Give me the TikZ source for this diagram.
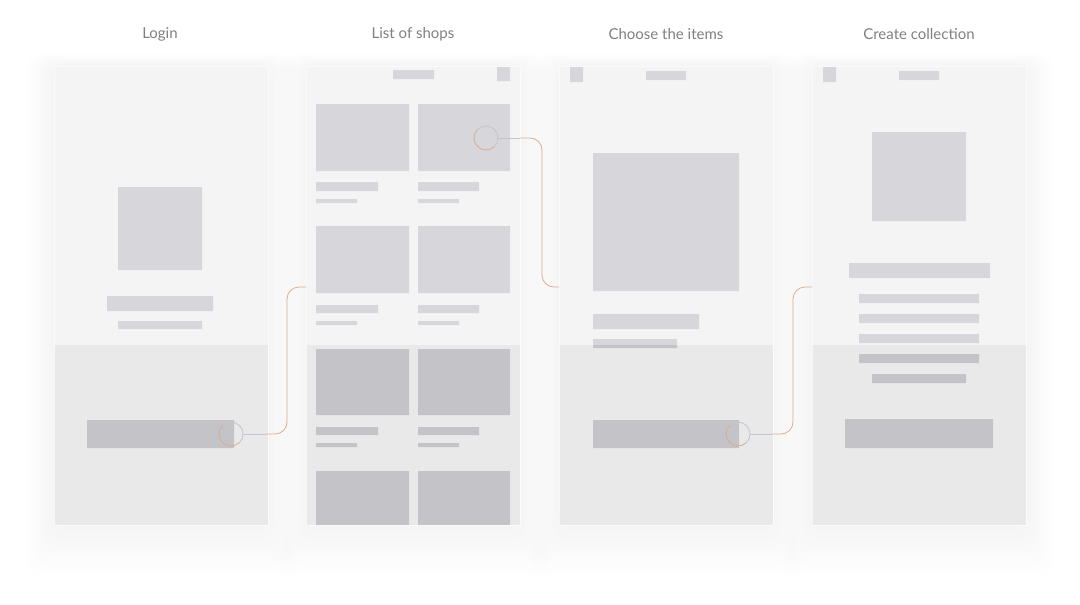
\documentclass[tikz,border=0pt]{standalone}
\usepackage{fontspec}
\setmainfont{Lato}
\definecolor{scrtop}{HTML}{F4F4F4}
\definecolor{scrbot}{HTML}{E9E9E9}
\definecolor{phtop}{HTML}{D7D6DB}
\definecolor{phbot}{HTML}{C4C3C8}
\definecolor{titlecol}{HTML}{808080}
\definecolor{linkcol}{HTML}{D9AE90}
\definecolor{linkgray}{HTML}{C4C4CC}
\newcommand\wirescreen[2]{%
  \foreach \k in {1,...,10}{%
    \fill[black,opacity=0.0035,rounded corners=16pt]
      ({#1-2.8*\k},{66-1.2*\k}) rectangle ({#1+214+2.8*\k},{525+5.2*\k});}
  \fill[scrtop] (#1,66) rectangle (#1+214,345);
  \fill[scrbot] (#1,345) rectangle (#1+214,525);
  \begin{scope}\clip (#1,66) rectangle (#1+214,345); \fill[phtop] #2; \end{scope}
  \begin{scope}\clip (#1,345) rectangle (#1+214,525); \fill[phbot] #2; \end{scope}
  \draw[white,opacity=0.6,line width=0.6pt] (#1,66) rectangle (#1+214,525);
}
\begin{document}
\begin{tikzpicture}[x=1pt,y=-1pt,
  screentitle/.style={text=titlecol,font=\fontsize{15}{18}\selectfont,inner sep=0pt},
  hot/.style={circle,minimum size=24pt,inner sep=0pt,outer sep=0pt},
  linkline/.style={draw=linkcol,line width=0.8pt,rounded corners=12pt},
  graystub/.style={draw=linkgray,line width=0.8pt}]
\useasboundingbox (0,0) rectangle (1080,605);
\fill[white] (0,0) rectangle (1080,605);

% titles
\node[screentitle] (t1) at (160,34) {Login};
\node[screentitle] (t2) at (413,34) {List of shops};
\node[screentitle] (t3) at (666,34) {Choose the items};
\node[screentitle] (t4) at (919,34) {Create collection};

% screen 1: Login
\wirescreen{54}{(118,187) rectangle (202,270) (107,296) rectangle (213,311)
  (118,321) rectangle (202,329) (87,420) rectangle (234,448)}
% screen 2: List of shops
\wirescreen{306}{(393,70) rectangle (434,79) (497,67) rectangle (510,81)
  (316,104) rectangle (409,171) (418,104) rectangle (510,171)
  (316,182) rectangle (378,191) (418,182) rectangle (479,191)
  (316,199) rectangle (357,203) (418,199) rectangle (459,203)
  (316,226) rectangle (409,293) (418,226) rectangle (510,293)
  (316,305) rectangle (378,313) (418,305) rectangle (479,313)
  (316,321) rectangle (357,325) (418,321) rectangle (459,325)
  (316,349) rectangle (409,415) (418,349) rectangle (510,415)
  (316,427) rectangle (378,435) (418,427) rectangle (479,435)
  (316,443) rectangle (357,447) (418,443) rectangle (459,447)
  (316,471) rectangle (409,525) (418,471) rectangle (510,525)}
% screen 3: Choose the items
\wirescreen{559}{(570,67) rectangle (583,82) (646,71) rectangle (686,80)
  (593,153) rectangle (739,291) (593,314) rectangle (699,329)
  (593,339) rectangle (677,348) (593,420) rectangle (739,448)}
% screen 4: Create collection
\wirescreen{812}{(823,67) rectangle (836,82) (899,71) rectangle (939,80)
  (872,132) rectangle (966,221) (849,263) rectangle (990,278)
  (859,294) rectangle (979,303) (859,314) rectangle (979,323)
  (859,334) rectangle (979,343) (859,354) rectangle (979,363)
  (872,374) rectangle (966,383) (845,419) rectangle (993,448)}

% hotspots
\node[hot] (c1) at (231,434) {};
\node[hot] (c2) at (486,138) {};
\node[hot] (c3) at (738,434) {};
\foreach \c in {c1,c2,c3}{
  \draw[linkgray,line width=0.8pt] (\c.north west) arc[start angle=-135,end angle=45,radius=12];
  \draw[linkcol,line width=0.8pt] (\c.south east) arc[start angle=45,end angle=225,radius=12];
}

% connector ends
\coordinate (g1) at (266,434);
\coordinate (e1) at (306,287);
\coordinate (g2) at (520,138);
\coordinate (e2) at (559,287);
\coordinate (g3) at (772,434);
\coordinate (e3) at (812,287);

\draw[graystub] (c1.east) -- (g1);
\draw[linkline] (g1) -- (287,434) -- (287,287) -- (e1);
\draw[graystub] (c2.east) -- (g2);
\draw[linkline] (g2) -- (542,138) -- (542,287) -- (e2);
\draw[graystub] (c3.east) -- (g3);
\draw[linkline] (g3) -- (793,434) -- (793,287) -- (e3);
\end{tikzpicture}
\end{document}
